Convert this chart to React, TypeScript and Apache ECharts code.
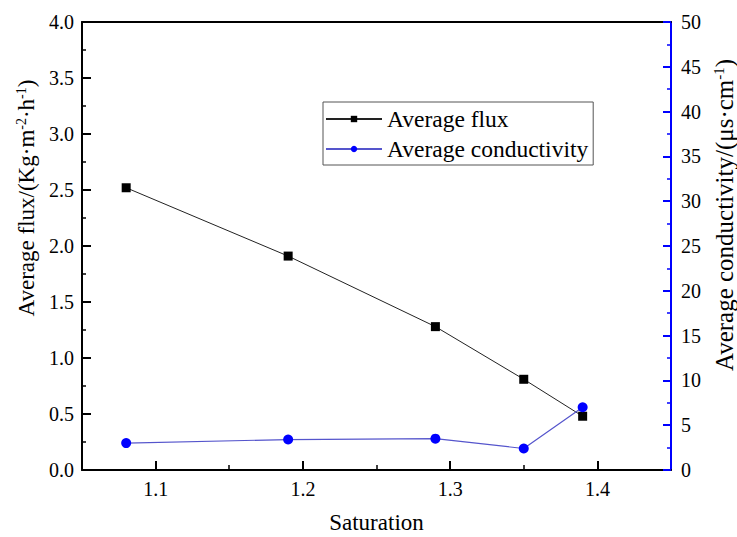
import React, { useEffect, useRef } from 'react';
import * as echarts from 'echarts';

const saturation = [1.08, 1.19, 1.29, 1.35, 1.39];
const avgFlux = [2.52, 1.91, 1.28, 0.81, 0.48];
const avgConductivity = [3.0, 3.4, 3.5, 2.4, 7.0];
const xMajorTicks = [1.1, 1.2, 1.3, 1.4];
const xMinorTicks = [1.15, 1.25, 1.35];

const FONT = 'Liberation Serif';
const BLUE = '#0000ff';

export default function App() {
  const ref = useRef<HTMLDivElement>(null);
  useEffect(() => {
    if (!ref.current) return;
    const chart = echarts.init(ref.current, null, { renderer: 'svg' });
    const fluxData = saturation.map((s, i) => [s, avgFlux[i]]);
    const condData = saturation.map((s, i) => [s, avgConductivity[i]]);
    const leftRich = {
      t: { fontSize: 23, fontFamily: FONT, color: '#000' },
      sup: { fontSize: 14, fontFamily: FONT, color: '#000', padding: [0, 0, 10, 0] },
    };
    const rightRich = {
      t: { fontSize: 25, fontFamily: FONT, color: '#000' },
      sup: { fontSize: 15, fontFamily: FONT, color: '#000', padding: [0, 0, 11, 0] },
    };
    const labRich = { a: { fontSize: 20, fontFamily: FONT, color: '#000' } };
    chart.setOption({
      animation: false,
      backgroundColor: '#fff',
      textStyle: { fontFamily: FONT },
      grid: { left: 82, top: 22, right: 66, bottom: 67, containLabel: false, outerBoundsMode: 'none' },
      legend: {
        orient: 'vertical',
        left: 323,
        top: 102,
        padding: [5, 5, 4, 2],
        borderColor: '#555',
        borderWidth: 1,
        itemGap: 6,
        itemWidth: 56,
        itemHeight: 8,
        textStyle: { fontSize: 23.5, fontFamily: FONT, color: '#000', lineHeight: 23 },
        data: ['Average flux', 'Average conductivity'],
      },
      xAxis: [
        {
          type: 'value',
          min: 1.05,
          max: 1.45,
          position: 'bottom',
          name: '{t|Saturation}',
          nameLocation: 'middle',
          nameGap: 41,
          nameTextStyle: { fontSize: 23, fontFamily: FONT, color: '#000', rich: leftRich },
          axisLine: { show: true, lineStyle: { color: '#000', width: 2 } },
          axisTick: { show: true, inside: true, length: 9, customValues: xMajorTicks, lineStyle: { color: '#000', width: 2 } },
          axisLabel: {
            customValues: xMajorTicks,
            formatter: (v: number) => `{a|${v.toFixed(1)}}`,
            rich: labRich,
            fontSize: 20,
            fontFamily: FONT,
            color: '#000',
            margin: 9,
          },
          splitLine: { show: false },
        },
        {
          type: 'value',
          min: 1.05,
          max: 1.45,
          position: 'bottom',
          axisLine: { show: false },
          axisTick: { show: true, inside: true, length: 5, customValues: xMinorTicks, lineStyle: { color: '#000', width: 1.5 } },
          axisLabel: { show: false },
          splitLine: { show: false },
        },
        {
          type: 'value',
          min: 1.05,
          max: 1.45,
          position: 'top',
          axisLine: { show: true, lineStyle: { color: '#000', width: 2 } },
          axisTick: { show: false },
          axisLabel: { show: false },
          splitLine: { show: false },
        },
      ],
      yAxis: [
        {
          type: 'value',
          min: 0,
          max: 4,
          interval: 0.5,
          position: 'left',
          name: '{t|Average flux/(Kg·m}{sup|-2}{t|·h}{sup|-1}{t|)}',
          nameLocation: 'middle',
          nameRotate: 90,
          nameGap: 43,
          nameTextStyle: { fontSize: 23, fontFamily: FONT, color: '#000', rich: leftRich, padding: [0, 0, 0, 96] },
          axisLine: { show: true, lineStyle: { color: '#000', width: 2 } },
          axisTick: { show: true, inside: true, length: 9, lineStyle: { color: '#000', width: 2 } },
          minorTick: { show: true, splitNumber: 2, length: 4, lineStyle: { color: '#000', width: 1.5 } },
          axisLabel: {
            formatter: (v: number) => `{a|${v.toFixed(1)}}`,
            rich: labRich,
            fontSize: 20,
            fontFamily: FONT,
            color: '#000',
            margin: 8,
          },
          splitLine: { show: false },
        },
        {
          type: 'value',
          min: 0,
          max: 50,
          interval: 5,
          position: 'right',
          name: '{t|Average conductivity/(μs·cm}{sup|-1}{t|)}',
          nameLocation: 'middle',
          nameRotate: 90,
          nameGap: 21,
          nameTextStyle: { fontSize: 25, fontFamily: FONT, color: '#000', rich: rightRich, padding: [0, 0, 0, 62] },
          axisLine: { show: true, lineStyle: { color: BLUE, width: 2 } },
          axisTick: { show: true, inside: true, length: 8, lineStyle: { color: BLUE, width: 2 } },
          minorTick: { show: true, splitNumber: 2, length: 4, lineStyle: { color: BLUE, width: 1.5 } },
          axisLabel: {
            formatter: (v: number) => `{a|${v}}`,
            rich: labRich,
            fontSize: 20,
            fontFamily: FONT,
            color: '#000',
            margin: 10,
          },
          splitLine: { show: false },
        },
      ],
      series: [
        {
          name: 'Average flux',
          type: 'line',
          xAxisIndex: 0,
          yAxisIndex: 0,
          data: fluxData,
          symbol: 'rect',
          symbolSize: 9,
          itemStyle: { color: '#000' },
          lineStyle: { color: '#222', width: 1 },
          z: 3,
        },
        {
          name: 'Average conductivity',
          type: 'line',
          xAxisIndex: 0,
          yAxisIndex: 1,
          data: condData,
          symbol: 'circle',
          symbolSize: 10,
          itemStyle: { color: BLUE },
          lineStyle: { color: '#5555cc', width: 1.2 },
          z: 4,
        },
      ],
    });
    return () => chart.dispose();
  }, []);
  return <div ref={ref} style={{ position: 'fixed', left: 0, top: 0, width: 737, height: 537 }} />;
}
